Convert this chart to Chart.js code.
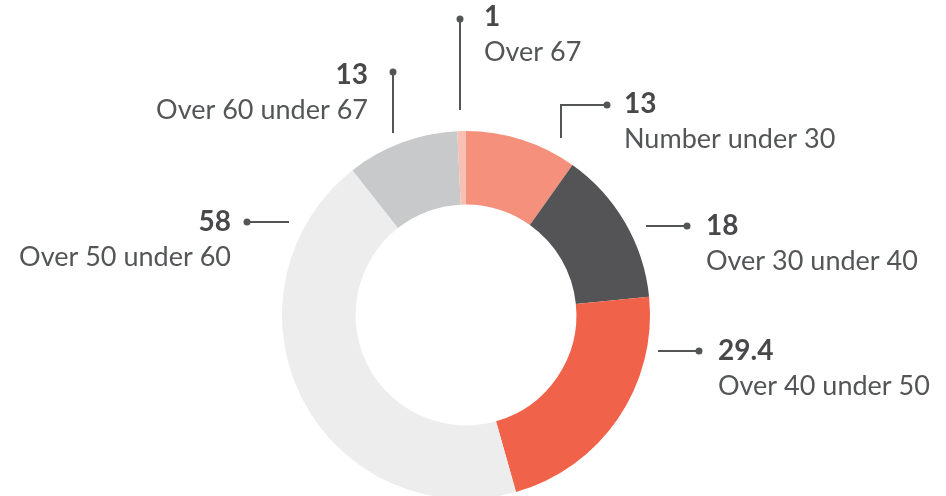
<!DOCTYPE html>
<html>
<head>
<meta charset="utf-8">
<script src="https://cdn.jsdelivr.net/npm/chart.js@4/dist/chart.umd.min.js"></script>
<style>
  html, body { margin: 0; padding: 0; background: #fff; overflow: hidden; }
  #wrap { position: relative; width: 946px; height: 520px; }
</style>
</head>
<body>
<div id="wrap"><canvas id="age-chart"></canvas></div>
<script>
// age groups, clockwise from 12 o'clock
var ageLabels = ['Number under 30', 'Over 30 under 40', 'Over 40 under 50', 'Over 50 under 60', 'Over 60 under 67', 'Over 67'];
var ageValues = [13, 18, 29.4, 58, 13, 1];
var valueText = ['13', '18', '29.4', '58', '13', '1'];

var AGE_COLORS = ['#f4907c', '#545456', '#f0634a', '#ededed', '#c8c9cb', '#f8bfb3'];
var INK = '#545557';

// callout geometry, offsets from the doughnut centre (px)
// pts = polyline ending at the dot, tx/ty = text anchor, align = text side
var callouts = [
  { pts: [[95, -177], [95, -210], [141, -210]], tx: 158, ty: -211, align: 'left' },
  { pts: [[180, -89], [221, -89]], tx: 240, ty: -89, align: 'left' },
  { pts: [[192, 36], [233, 36]], tx: 252, ty: 36, align: 'left' },
  { pts: [[-177, -93], [-219, -93]], tx: -235, ty: -93, align: 'right' },
  { pts: [[-73, -182], [-73, -243]], tx: -98, ty: -240, align: 'right' },
  { pts: [[-6, -205], [-6, -296]], tx: 18, ty: -298, align: 'left' }
];

var calloutPlugin = {
  id: 'callouts',
  afterDraw: function (chart) {
    var arc = chart.getDatasetMeta(0).data[0];
    if (!arc) return;
    var cx = arc.x, cy = arc.y;
    var ctx = chart.ctx;
    ctx.save();
    callouts.forEach(function (c, i) {
      ctx.strokeStyle = INK;
      ctx.lineWidth = 2;
      ctx.beginPath();
      c.pts.forEach(function (p, j) {
        if (j === 0) ctx.moveTo(cx + p[0], cy + p[1]);
        else ctx.lineTo(cx + p[0], cy + p[1]);
      });
      ctx.stroke();
      var end = c.pts[c.pts.length - 1];
      ctx.fillStyle = INK;
      ctx.beginPath();
      ctx.arc(cx + end[0], cy + end[1], 3.5, 0, Math.PI * 2);
      ctx.fill();

      ctx.textAlign = c.align;
      ctx.textBaseline = 'middle';
      ctx.fillStyle = '#48484b';
      ctx.font = 'bold 28px Lato';
      ctx.fillText(valueText[i], cx + c.tx, cy + c.ty);
      ctx.fillStyle = INK;
      ctx.font = '27px Lato';
      ctx.fillText(ageLabels[i], cx + c.tx, cy + c.ty + 35);
    });
    ctx.restore();
  }
};

new Chart(document.getElementById('age-chart').getContext('2d'), {
  type: 'doughnut',
  data: {
    labels: ageLabels,
    datasets: [{
      data: ageValues,
      backgroundColor: AGE_COLORS,
      borderWidth: 0,
      hoverOffset: 0,
      hoverBorderWidth: 0
    }]
  },
  options: {
    responsive: true,
    maintainAspectRatio: false,
    animation: false,
    cutout: '60%',
    layout: { padding: { left: 282, right: 296, top: 131, bottom: 21 } },
    plugins: {
      legend: { display: false },
      tooltip: { enabled: false }
    }
  },
  plugins: [calloutPlugin]
});
</script>
</body>
</html>
